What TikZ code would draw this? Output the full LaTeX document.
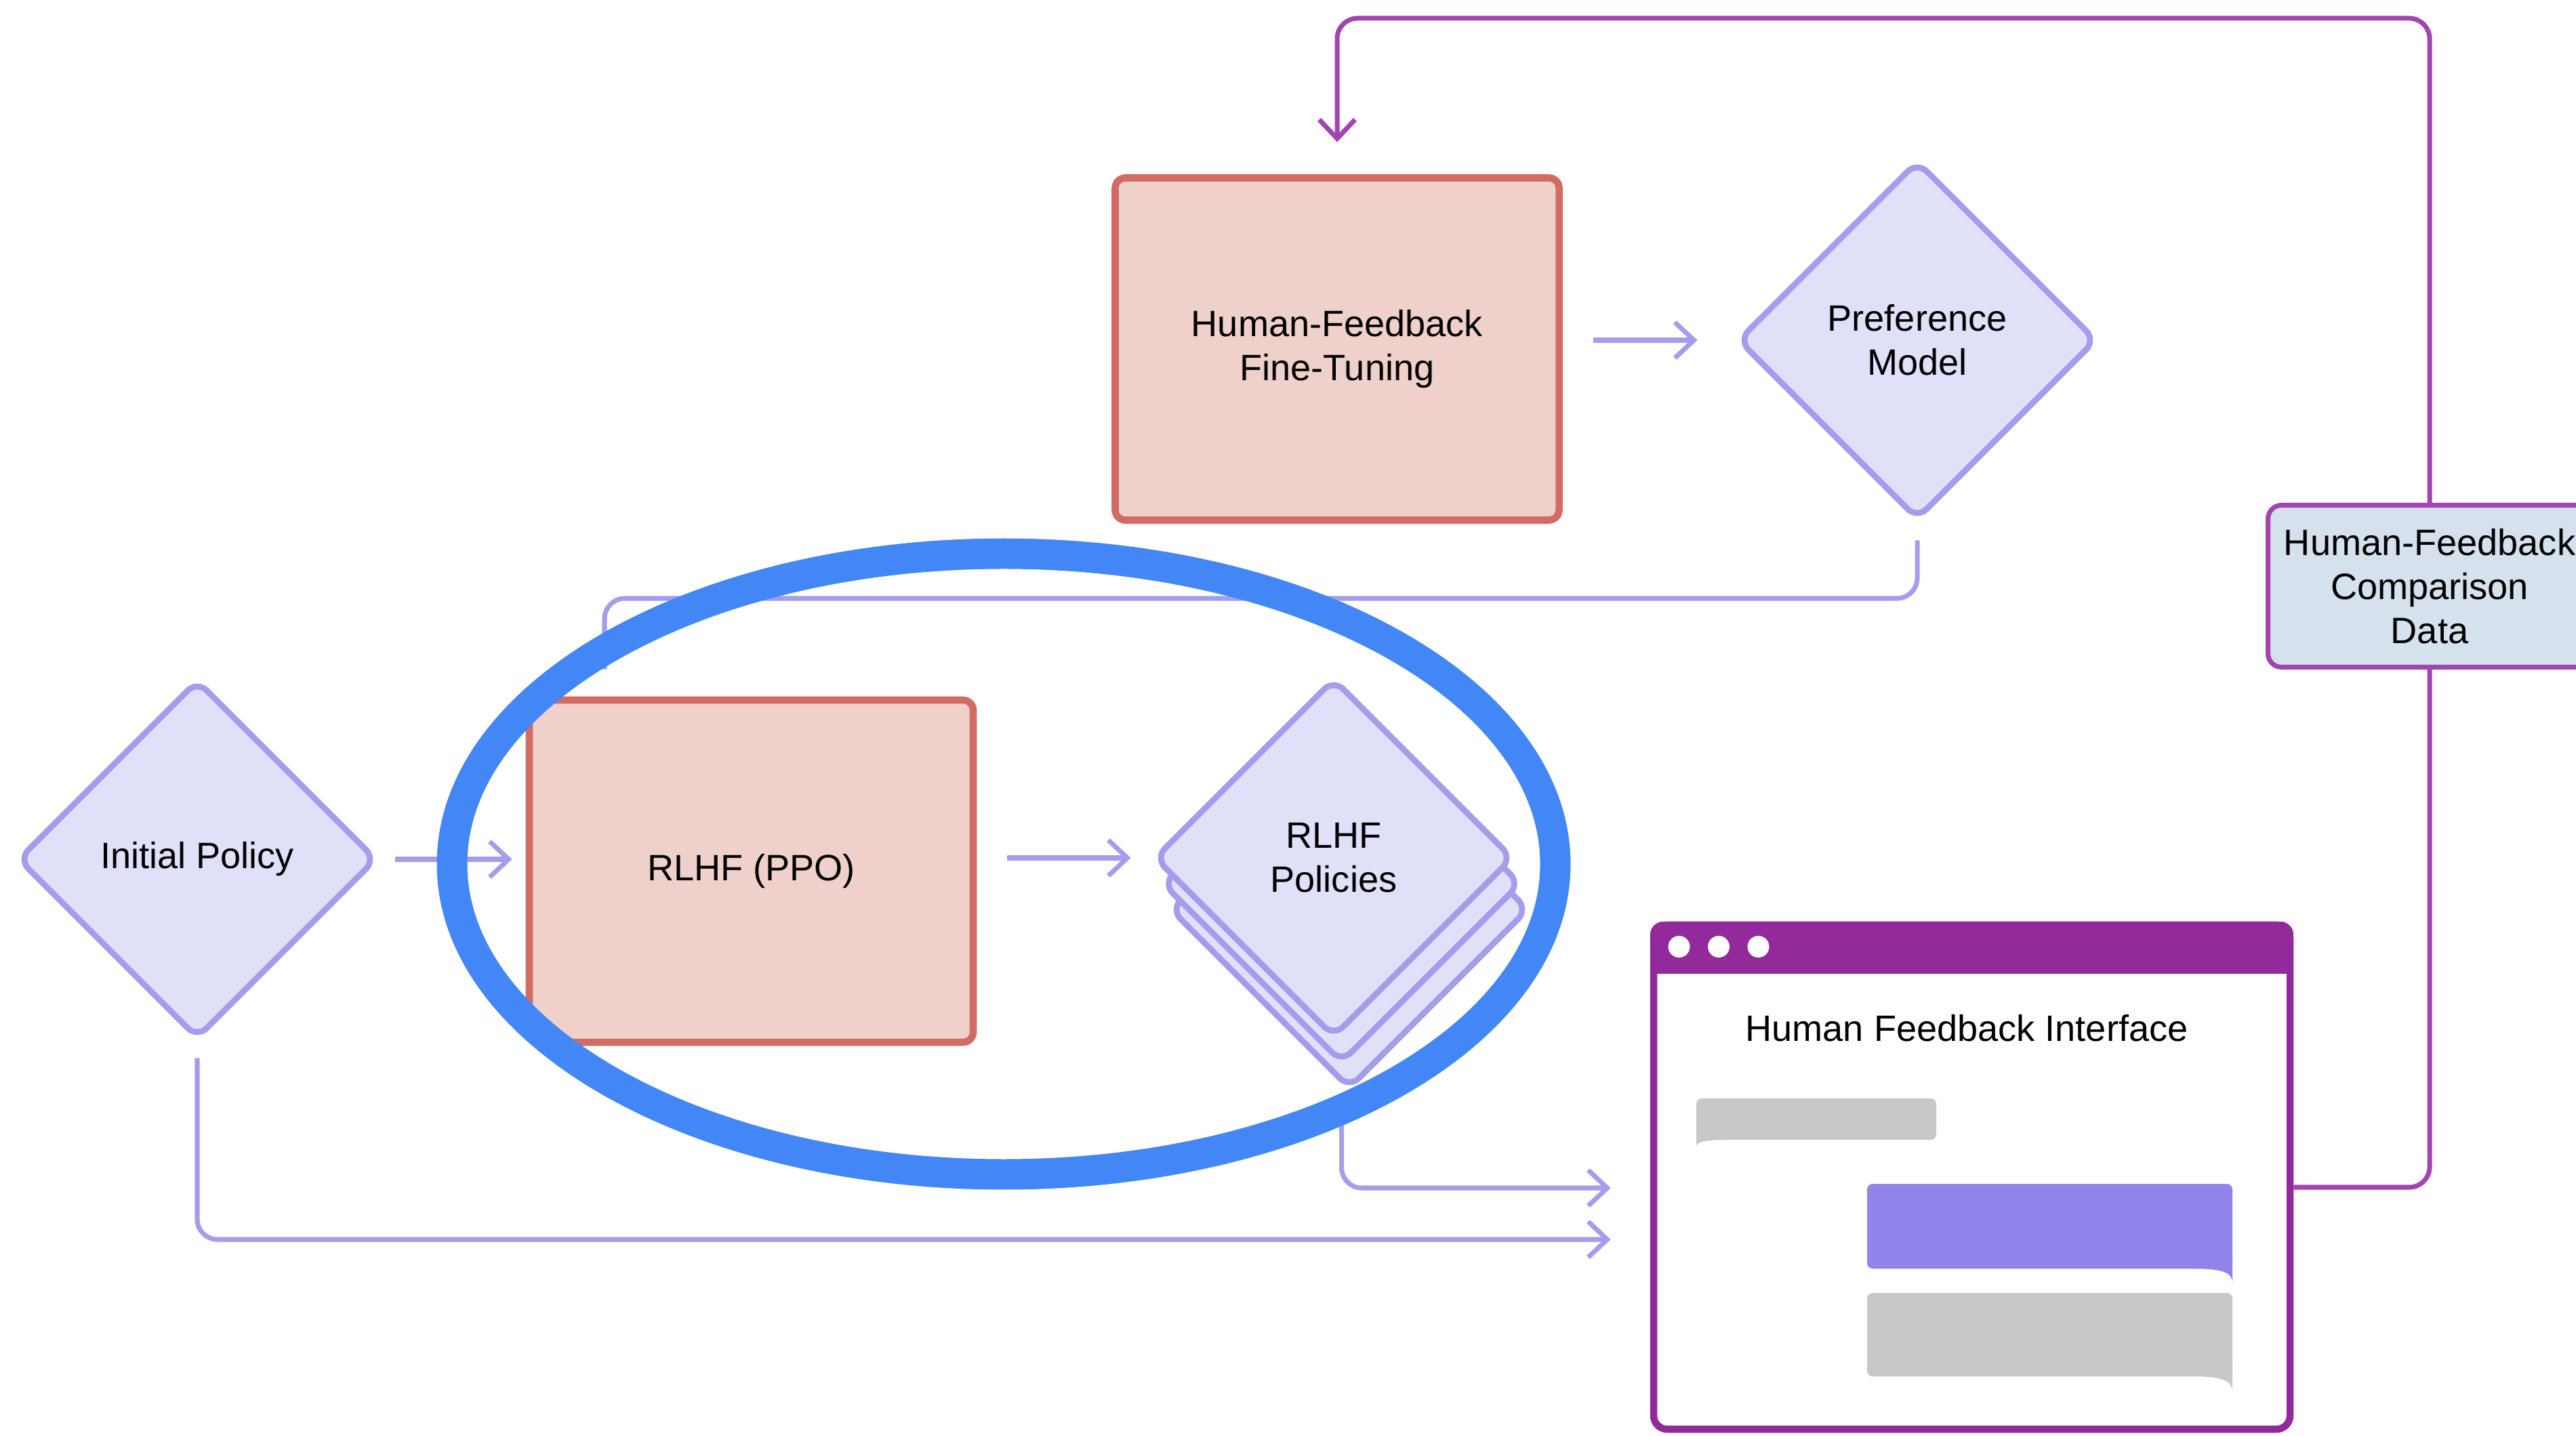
\documentclass[tikz,border=0pt]{standalone}
\usepackage{fontspec}
\setmainfont{Liberation Sans}
\usepackage{tikz}
\usetikzlibrary{shapes.geometric,arrows.meta}
\usepackage{xcolor}

\definecolor{boxred}{HTML}{D26B63}
\definecolor{boxpink}{HTML}{EFD0CB}
\definecolor{lav}{HTML}{A49DEB}
\definecolor{lavfill}{HTML}{E0E0F9}
\definecolor{winpurple}{HTML}{922A9C}
\definecolor{linepurple}{HTML}{A244B2}
\definecolor{datablue}{HTML}{D5E1EC}
\definecolor{bubblegray}{HTML}{C8C8C8}
\definecolor{bubblepurple}{HTML}{8F84EA}
\definecolor{ringblue}{HTML}{4287F5}

\tikzset{
	stepbox/.style={draw=boxred,fill=boxpink,line width=3pt,rounded corners=0.15cm,minimum width=6.55cm,minimum height=5.05cm,align=center},
	policy/.style={diamond,draw=lav,fill=lavfill,line width=2.5pt,rounded corners=0.2cm,minimum width=5.3cm,minimum height=5.3cm,inner sep=0pt,align=center},
	databox/.style={draw=linepurple,fill=datablue,line width=2pt,rounded corners=0.2cm,minimum width=4.77cm,minimum height=2.39cm,align=center},
	wire/.style={draw=lav,line width=2pt,rounded corners=0.3cm},
	flow/.style={wire,-{Straight Barb[length=8pt,width=15pt]}},
	backline/.style={draw=linepurple,line width=2pt,rounded corners=0.3cm}
}

\begin{document}
\begin{tikzpicture}[font=\fontsize{15.4}{18.5}\selectfont]
		\useasboundingbox (0,0) rectangle (38.01,21.18);
		\node[policy] (init) at (2.91,8.50) {Initial Policy};
		\node[stepbox] (ppo) at (11.085,8.325) {RLHF (PPO)};
		\foreach \k in {2,1}
		\node[policy] (pol\k) at ({19.68+0.115*\k},{8.52-0.38*\k}) {};
		\node[policy] (pol) at (19.68,8.52) {RLHF\\Policies};
		\node[stepbox] (hfft) at (19.73,16.03) {Human-Feedback\\Fine-Tuning};
		\node[policy] (pm) at (28.29,16.16) {Preference\\Model};
		\node[databox] (data) at (35.85,12.53) {Human-Feedback\\Comparison\\Data};
		\begin{scope}
			\node[draw=winpurple,fill=white,line width=3pt,rounded corners=0.2cm,minimum width=9.39cm,minimum height=7.44cm] (ui) at (29.095,3.81) {};
			\begin{scope}
				\clip[rounded corners=0.2cm] (ui.south west) rectangle (ui.north east);
				\fill[winpurple] (ui.north west) rectangle (ui.east |- 0,6.81);
			\end{scope}
			\foreach \n in {1,2,3}
			\node[circle,inner sep=0pt,minimum size=0.32cm,fill=white] (dot\n) at ({24.19+0.585*\n},7.21) {};
			\node (uititle) at (29.02,6.01) {Human Feedback Interface};
			\fill[bubblegray,rounded corners=0.08cm] (25.03,4.36) rectangle (28.57,4.97);
			\fill[bubblegray] (25.03,4.50) -- (25.03,4.26) .. controls (25.03,4.33) and (25.15,4.36) .. (25.50,4.36) -- (25.50,4.50) -- cycle;
			\fill[bubblepurple,rounded corners=0.08cm] (27.55,2.46) rectangle (32.94,3.71);
			\fill[bubblepurple] (32.94,2.60) -- (32.94,2.25) .. controls (32.94,2.40) and (32.80,2.46) .. (32.35,2.46) -- (32.35,2.60) -- cycle;
			\fill[bubblegray,rounded corners=0.08cm] (27.55,0.87) rectangle (32.94,2.10);
			\fill[bubblegray] (32.94,1.00) -- (32.94,0.64) .. controls (32.94,0.80) and (32.80,0.87) .. (32.35,0.87) -- (32.35,1.00) -- cycle;
		\end{scope}
		\coordinate (turn) at (8.92,12.35);
		\coordinate (top) at (35.85,20.91);
		\draw[flow,shorten <=0.23cm,shorten >=0.2cm] (init.east) -- (init.east -| ppo.west);
		\draw[flow,shorten <=0.45cm,shorten >=0.3cm] (pol.west -| ppo.east) -- (pol.west);
		\draw[flow,shorten <=0.45cm,shorten >=0.55cm] (hfft.east |- pm.west) -- (pm.west);
		\draw[wire,shorten <=0.26cm,shorten >=0.4cm] (pm.south) |- (turn) -- (turn |- ppo.north);
		\draw[flow,shorten <=0.7cm,shorten >=0.58cm] (pol1.south) |- ([yshift=-0.16cm]ui.west);
		\draw[flow,shorten <=0.24cm,shorten >=0.58cm] (init.south) |- ([yshift=-0.92cm]ui.west);
		\draw[backline] ([yshift=-0.15cm]ui.east) -| (data.south);
		\draw[backline,-{Straight Barb[length=8pt,width=15pt]},shorten >=0.475cm] (data.north) -- (top) -| (hfft.north);
		\draw[ringblue,line width=12.8pt] (14.81,8.43) ellipse [x radius=8.14,y radius=4.58];
	\end{tikzpicture}
\end{document}
